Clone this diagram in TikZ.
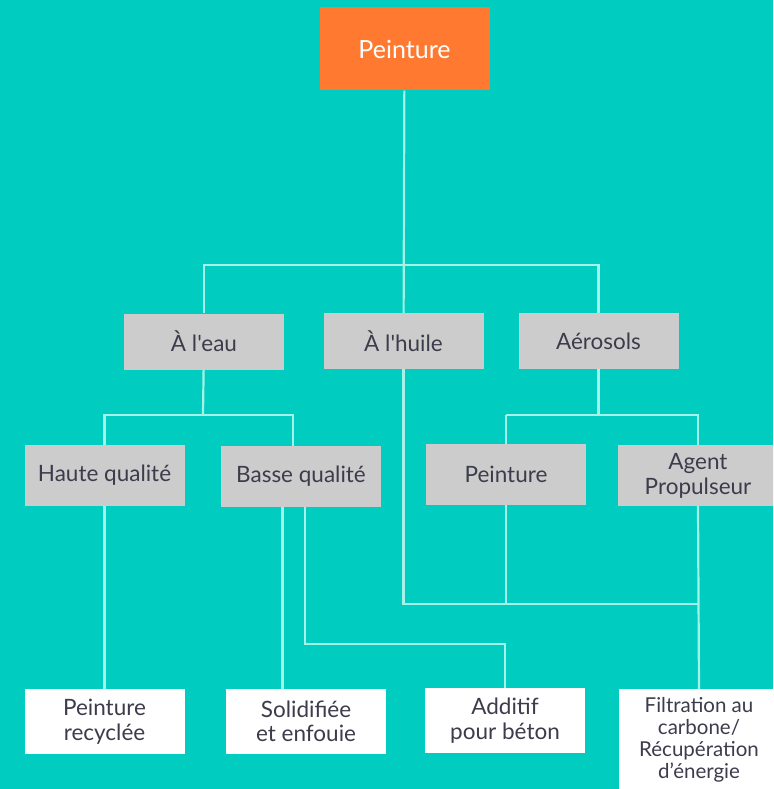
\documentclass[tikz,border=0pt]{standalone}
\usepackage{fontspec}
\setmainfont{Lato}[Ligatures=TeXOff]
\usepackage{tikz}
\usetikzlibrary{calc}
\definecolor{fond}{RGB}{0,204,191}
\definecolor{orange}{RGB}{255,122,48}
\definecolor{gris}{RGB}{204,204,204}
\definecolor{trait}{RGB}{165,242,234}
\definecolor{texte}{RGB}{60,60,76}

\begin{document}
\begin{tikzpicture}[x=1pt,y=-1pt]
\tikzstyle{racine} = [fill=orange, text=white, minimum width=170pt, minimum height=83pt, font=\fontsize{25}{29}\selectfont]
\tikzstyle{categorie} = [fill=gris, text=texte, align=center, minimum width=160pt, font=\fontsize{22.5}{25}\selectfont]
\tikzstyle{issue} = [fill=white, text=texte, align=center, minimum width=160pt, minimum height=65pt, font=\fontsize{22.5}{24.5}\selectfont]
\tikzstyle{lien} = [draw=trait, line width=2.2pt]
\useasboundingbox (0,0) rectangle (773,789);
\clip (0,0) rectangle (773,789);
\fill[fond] (0,0) rectangle (773,789);

\node[racine] (peinture) at (404.5,49) {Peinture};

\node[categorie, minimum height=56pt] (eau) at (204,341.5) {À l'eau};
\node[categorie, minimum height=56pt] (huile) at (403.5,341) {À l'huile};
\node[categorie, minimum height=56pt] (aerosols) at (598.5,341) {Aérosols};

\node[categorie, minimum height=61pt] (haute) at (104.5,475.5) {Haute qualité};
\node[categorie, minimum height=61pt] (basse) at (301,476.5) {Basse qualité};
\node[categorie, minimum height=61pt] (peintaero) at (506,474.5) {Peinture};
\node[categorie, minimum height=61pt] (agent) at (698,475.5) {Agent\\Propulseur};

\node[issue] (recyclee) at (104.5,721.5) {Peinture\\recyclée};
\node[issue] (enfouie) at (306,721.5) {Solidifiée\\et enfouie};
\node[issue] (additif) at (505,720.5) {Additif\\pour béton};
\node[issue, minimum height=102pt, font=\fontsize{20.5}{22}\selectfont] (filtration) at (699,740) {Filtration au\\carbone/\\Récupération\\d’énergie};

\coordinate (bus1) at (403,265);
\coordinate (bus2) at (203,415);
\coordinate (bus3) at (505,644);
\coordinate (bus4) at (699,604);

\draw[lien] (peinture) -- (huile);
\draw[lien] (eau.north) |- (bus1) -| (aerosols.north);
\draw[lien] (eau) -- (bus2);
\draw[lien] (haute.north) |- (bus2) -| ([xshift=-8pt]basse.north);
\draw[lien] (aerosols.south) |- (peintaero.north |- bus2);
\draw[lien] (peintaero.north |- bus2) -| (peintaero.north);
\draw[lien] (peintaero.north |- bus2) -| (agent.north);
\draw[lien] (haute) -- (recyclee);
\draw[lien] ([xshift=-18.5pt]basse.south) -- ([xshift=-18.5pt]basse.south |- enfouie.north);
\draw[lien] ([xshift=4pt]basse.south) |- (bus3) -| (additif.north);
\draw[lien] (huile.south) |- (bus4);
\draw[lien] (peintaero.south) -- (peintaero.south |- bus4);
\draw[lien] (agent.south) -- (filtration.north);

\end{tikzpicture}
\end{document}
